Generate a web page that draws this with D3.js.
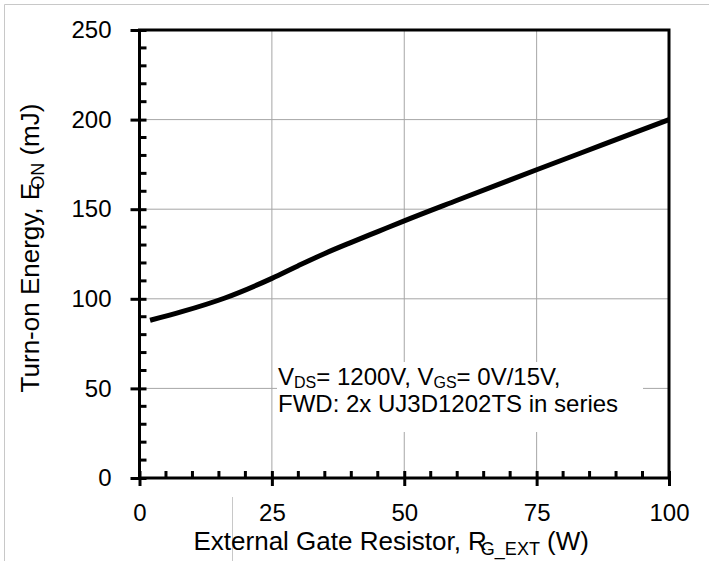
<!DOCTYPE html>
<html>
<head>
<meta charset="utf-8">
<script src="https://cdn.jsdelivr.net/npm/d3@7"></script>
<style>
  body { margin: 0; background: #fff; }
  svg { display: block; font-family: "Liberation Sans", Arial, sans-serif; }
</style>
</head>
<body>
<svg width="709" height="561"></svg>
<script>
// Turn-on energy vs external gate resistor
var rg  = [2, 8, 16, 25, 30, 35, 40, 45, 50, 60, 75, 87.5, 100];
var eon = [88, 92.8, 100.3, 111.4, 118.5, 125.3, 131.5, 137.5, 143.5, 155, 172, 186, 200];
var xTicks = [0, 25, 50, 75, 100];
var yTicks = [0, 50, 100, 150, 200, 250];

var data = rg.map(function(d, i) { return {x: d, y: eon[i]}; });

var svg = d3.select("svg"),
    margin = {top: 30, right: 40, bottom: 83, left: 139.5},
    width = 669 - margin.left,
    height = 478 - margin.top;

// faint page frame lines
svg.append("path")
    .attr("d", "M4.5,561V4.5H709")
    .attr("fill", "none")
    .attr("stroke", "#c8c8c8");
svg.append("line")
    .attr("x1", 232.5).attr("x2", 232.5)
    .attr("y1", 497).attr("y2", 561)
    .attr("stroke", "#c8c8c8");

var x = d3.scaleLinear().domain([0, 100]).range([0, width]),
    y = d3.scaleLinear().domain([0, 250]).range([height, 0]);

var g = svg.append("g")
    .attr("transform", "translate(" + margin.left + "," + margin.top + ")");

// grid
g.append("g").selectAll("line")
    .data(xTicks.slice(1, -1))
  .enter().append("line")
    .attr("x1", d => x(d)).attr("x2", d => x(d))
    .attr("y1", 0).attr("y2", height)
    .attr("stroke", "#a6a6a6").attr("stroke-width", 1);
g.append("g").selectAll("line")
    .data(yTicks.slice(1, -1))
  .enter().append("line")
    .attr("x1", 0).attr("x2", width)
    .attr("y1", d => y(d)).attr("y2", d => y(d))
    .attr("stroke", "#a6a6a6").attr("stroke-width", 1);

// annotation box hides the grid behind it
g.append("rect")
    .attr("x", 277 - margin.left).attr("y", 362 - margin.top)
    .attr("width", 366).attr("height", 70)
    .attr("fill", "#fff");

var ann = g.append("text")
    .attr("font-size", 24)
    .attr("fill", "#000");
var l1 = ann.append("tspan").attr("x", 278 - margin.left).attr("y", 385 - margin.top);
l1.append("tspan").text("V");
l1.append("tspan").attr("font-size", 16).attr("dy", 3).text("DS");
l1.append("tspan").attr("dy", -3).text("= 1200V, V");
l1.append("tspan").attr("font-size", 16).attr("dy", 3).text("GS");
l1.append("tspan").attr("dy", -3).text("= 0V/15V,");
ann.append("tspan").attr("x", 278 - margin.left).attr("y", 412 - margin.top)
    .text("FWD: 2x UJ3D1202TS in series");

// curve
var line = d3.line()
    .curve(d3.curveMonotoneX)
    .x(d => x(d.x))
    .y(d => y(d.y));

g.append("path")
    .datum(data)
    .attr("fill", "none")
    .attr("stroke", "#000")
    .attr("stroke-width", 5)
    .attr("d", line);

// frame
g.append("rect")
    .attr("width", width).attr("height", height)
    .attr("fill", "none")
    .attr("stroke", "#000").attr("stroke-width", 3);

// minor ticks (inward)
var xMinor = d3.range(0, 101, 5).filter(d => d % 25 !== 0);
var yMinor = d3.range(0, 251, 10).filter(d => d % 50 !== 0);
g.append("g").selectAll("line")
    .data(xMinor)
  .enter().append("line")
    .attr("x1", d => x(d)).attr("x2", d => x(d))
    .attr("y1", height).attr("y2", height - 7)
    .attr("stroke", "#000").attr("stroke-width", 3);
g.append("g").selectAll("line")
    .data(yMinor)
  .enter().append("line")
    .attr("x1", 0).attr("x2", 7)
    .attr("y1", d => y(d)).attr("y2", d => y(d))
    .attr("stroke", "#000").attr("stroke-width", 3);

// axes with major ticks crossing the frame
var xAxis = g.append("g")
    .attr("transform", "translate(0," + height + ")")
    .call(d3.axisBottom(x).tickValues(xTicks).tickSizeInner(8).tickSizeOuter(0).tickPadding(18));
var yAxis = g.append("g")
    .call(d3.axisLeft(y).tickValues(yTicks).tickSizeInner(9).tickSizeOuter(0).tickPadding(19));

[xAxis, yAxis].forEach(function(a) {
  a.select(".domain").remove();
  a.selectAll(".tick line").attr("stroke", "#000").attr("stroke-width", 3);
  a.selectAll("text").attr("font-size", 24).attr("font-family", "Liberation Sans, Arial, sans-serif").attr("fill", "#000");
});
xAxis.selectAll(".tick").append("line")
    .attr("y1", 0).attr("y2", -7)
    .attr("stroke", "#000").attr("stroke-width", 3);
yAxis.selectAll(".tick").append("line")
    .attr("x1", 0).attr("x2", 7)
    .attr("stroke", "#000").attr("stroke-width", 3);

// axis titles
var xt = svg.append("text")
    .attr("x", margin.left + width / 2 - 13)
    .attr("y", 550)
    .attr("text-anchor", "middle")
    .attr("font-size", 26);
xt.append("tspan").text("External Gate Resistor, R");
xt.append("tspan").attr("font-size", 18).attr("dx", -6).attr("dy", 5).text("G_EXT");
xt.append("tspan").attr("dy", -5).text(" (W)");

var yt = svg.append("text")
    .attr("transform", "translate(39," + (margin.top + height / 2 - 6) + ") rotate(-90)")
    .attr("text-anchor", "middle")
    .attr("font-size", 26);
yt.append("tspan").text("Turn-on Energy, E");
yt.append("tspan").attr("font-size", 18).attr("dx", -7).attr("dy", 5).text("ON");
yt.append("tspan").attr("dy", -5).text(" (mJ)");
</script>
</body>
</html>
